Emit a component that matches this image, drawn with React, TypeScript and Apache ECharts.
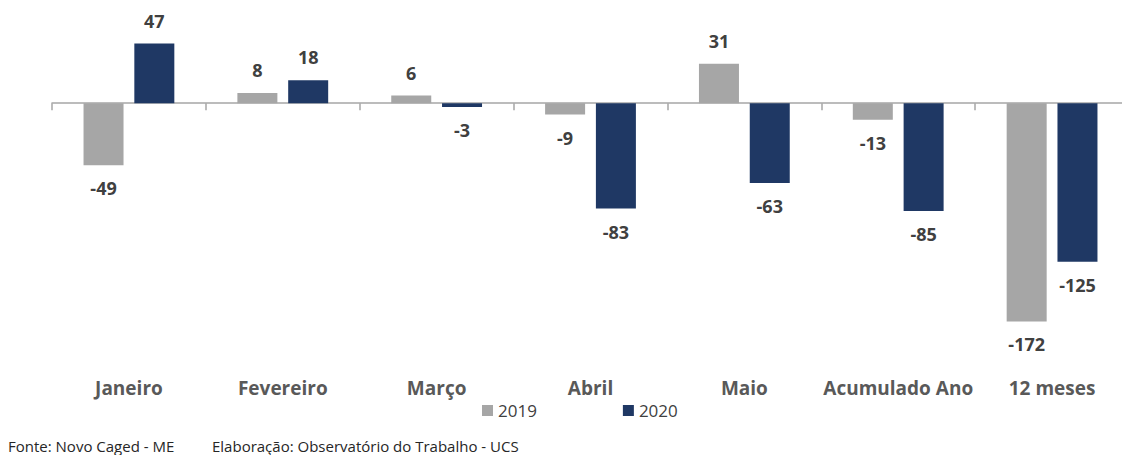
import React, { useEffect, useRef } from "react";
import * as echarts from "echarts";

const categories = ["Janeiro", "Fevereiro", "Março", "Abril", "Maio", "Acumulado Ano", "12 meses"];
const series2019 = [-49, 8, 6, -9, 31, -13, -172];
const series2020 = [47, 18, -3, -83, -63, -85, -125];
const seriesNames = ["2019", "2020"];
const colors = ["#a6a6a6", "#1f3864"];
const footerSource = "Fonte: Novo Caged - ME";
const footerCredit = "Elaboração: Observatório do Trabalho - UCS";

const FONT = "'Open Sans', Lato, sans-serif";

function toItems(values: number[]) {
  return values.map((v) => ({
    value: v,
    label: { position: v >= 0 ? "top" : "bottom" },
  }));
}

export default function App() {
  const ref = useRef<HTMLDivElement>(null);
  useEffect(() => {
    if (!ref.current) return;
    const chart = echarts.init(ref.current, undefined, { renderer: "svg" });
    const labelStyle = {
      show: true,
      distance: 14,
      fontFamily: FONT,
      fontWeight: "bold" as const,
      fontSize: 18,
      color: "#404040",
    };
    chart.setOption({
      animation: false,
      backgroundColor: "#ffffff",
      grid: {
        left: 52,
        top: 27,
        width: 1077,
        height: 330,
        containLabel: false,
        outerBoundsMode: "none",
      },
      legend: {
        data: seriesNames,
        left: 477,
        top: 397,
        itemWidth: 11,
        itemHeight: 11,
        itemGap: 86,
        icon: "rect",
        textStyle: { fontFamily: FONT, fontSize: 17, color: "#404040" },
      },
      xAxis: [
        {
          type: "category",
          data: categories,
          axisLine: { onZero: true, lineStyle: { color: "#a6a6a6", width: 1.5 } },
          axisTick: { show: true, alignWithLabel: false, length: 7, lineStyle: { color: "#a6a6a6", width: 1.5 } },
          axisLabel: { show: false },
        },
        {
          type: "category",
          data: categories,
          position: "bottom",
          axisLine: { show: false, onZero: false },
          axisTick: { show: false },
          axisLabel: {
            show: true,
            interval: 0,
            margin: 21,
            fontFamily: FONT,
            fontWeight: "bold",
            fontSize: 19,
            color: "#595959",
          },
        },
      ],
      yAxis: {
        type: "value",
        min: -200,
        max: 60,
        show: false,
        splitLine: { show: false },
      },
      series: [
        {
          name: seriesNames[0],
          type: "bar",
          data: toItems(series2019),
          barWidth: 40,
          barGap: "27%",
          itemStyle: { color: colors[0] },
          label: labelStyle,
        },
        {
          name: seriesNames[1],
          type: "bar",
          data: toItems(series2020),
          barWidth: 40,
          barGap: "27%",
          itemStyle: { color: colors[1] },
          label: labelStyle,
        },
      ],
      graphic: [
        {
          type: "text",
          left: 8,
          top: 438,
          style: { text: footerSource, fontFamily: FONT, fontSize: 15, fill: "#262626" },
        },
        {
          type: "text",
          left: 212,
          top: 438,
          style: { text: footerCredit, fontFamily: FONT, fontSize: 15, fill: "#262626" },
        },
      ],
    });
    return () => chart.dispose();
  }, []);
  return <div ref={ref} style={{ width: 1122, height: 455, position: "absolute", left: 0, top: 0 }} />;
}
